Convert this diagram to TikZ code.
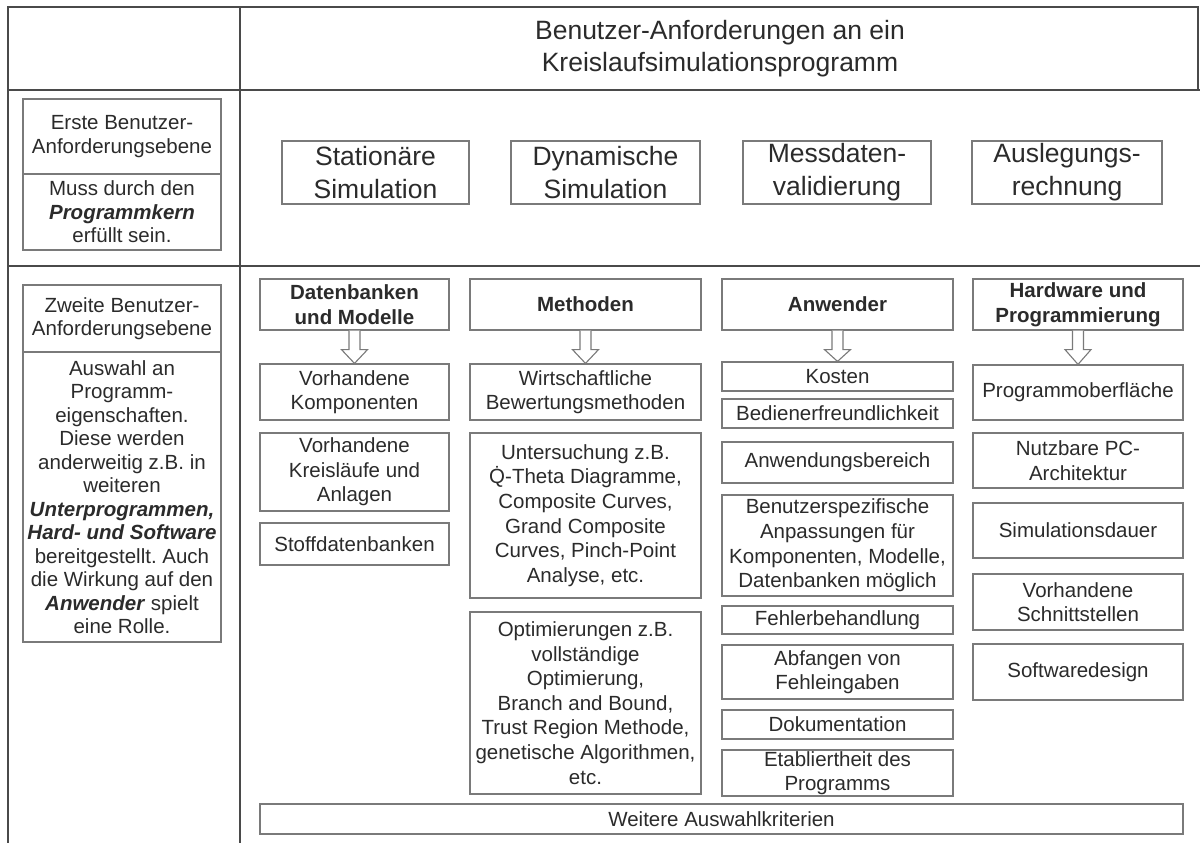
\documentclass[tikz,border=0pt]{standalone}
\usepackage{fontspec}
\setmainfont{Liberation Sans}
\usetikzlibrary{calc}
\definecolor{tline}{HTML}{4A4A4A}
\definecolor{bline}{HTML}{7A7A7A}
\definecolor{txt}{HTML}{2B2B2B}
\frenchspacing
\newcommand\fsN{\fontsize{20.5}{24.6}\selectfont}
\newcommand\fsL{\fontsize{20.5}{23.5}\selectfont}
\newcommand\fsT{\fontsize{26.5}{31.5}\selectfont}
\newcommand\fsB{\fontsize{26.5}{33}\selectfont}
\newcommand\bi[1]{\textbf{\textit{#1}}}
\newcommand\harrow[2]{\draw[harr] ($(#1.south)+(-5.5,0)$) |- ($(#1.south)+(-13,19)$) -- (#1.south |- #2.north) -- ($(#1.south)+(13,19)$) -| ($(#1.south)+(5.5,0)$);}
\begin{document}
\begin{tikzpicture}[x=1pt,y=-1pt,
  tbl/.style={draw=tline,line width=1.6pt},
  box/.style={draw=bline,line width=1.2pt,inner sep=0pt,align=center,text=txt,font=\fsN},
  bx/.style n args={2}{box,minimum width=#1,minimum height=#2},
  lbx/.style n args={2}{box,font=\fsL,minimum width=#1,minimum height=#2},
  tbx/.style n args={2}{box,font=\fsB,minimum width=#1,minimum height=#2},
  hbx/.style n args={2}{box,font=\fsN\bfseries,minimum width=#1,minimum height=#2},
  harr/.style={draw=bline,line width=1.1pt,fill=white,line join=miter}]
\fill[white] (0,0) rectangle (1200,843);
\useasboundingbox (0,0) rectangle (1200,843);

% table frame
\draw[tbl] (8,843) -- (8,7) -- (1198,7) -- (1198,90);
\draw[tbl] (8,90) -- (1200,90);
\draw[tbl] (8,266) -- (1200,266);
\draw[tbl] (240,7) -- (240,843);

% title
\node[font=\fsT,text=txt,align=center,inner sep=0pt] (title) at (720,48.5)
  {Benutzer-Anforderungen an ein\\Kreislaufsimulationsprogramm};

% left column
\node[lbx={198pt}{75pt}] (l1a) at (122,136.5) {Erste Benutzer-\\Anforderungsebene};
\node[lbx={198pt}{76pt}] (l1b) at (122,212) {Muss durch den\\\bi{Programmkern}\\erfüllt sein.};
\node[lbx={198pt}{67pt}] (l2a) at (122,318.5) {Zweite Benutzer-\\Anforderungsebene};
\node[lbx={198pt}{290pt}] (l2b) at (122,497) {Auswahl an\\Programm-\\eigenschaften.\\Diese werden\\anderweitig z.B. in\\weiteren\\\bi{Unterprogrammen,}\\\bi{Hard- und Software}\\bereitgestellt. Auch\\die Wirkung auf den\\\bi{Anwender} spielt\\eine Rolle.};

% first level boxes
\node[tbx={187pt}{63pt}] (t1) at (375.5,172.5) {Stationäre\\Simulation};
\node[tbx={189pt}{63pt}] (t2) at (605.5,172.5) {Dynamische\\Simulation};
\node[tbx={188pt}{63pt}] (t3) at (837,172.5) {Messdaten-\\validierung};
\node[tbx={190pt}{63pt}] (t4) at (1067,172.5) {Auslegungs-\\rechnung};

% column 1
\node[hbx={189pt}{51pt}] (dh) at (354.5,304.5) {Datenbanken\\und Modelle};
\node[bx={189pt}{56pt}] (d1) at (354.5,392) {Vorhandene\\Komponenten};
\node[bx={189pt}{78pt}] (d2) at (354.5,472) {Vorhandene\\Kreisläufe und\\Anlagen};
\node[bx={189pt}{42pt}] (d3) at (354.5,544) {Stoffdatenbanken};
\harrow{dh}{d1}

% column 2
\node[hbx={231pt}{51pt}] (mh) at (585.5,304.5) {Methoden};
\node[bx={231pt}{56pt}] (m1) at (585.5,392) {Wirtschaftliche\\Bewertungsmethoden};
\node[bx={231pt}{165pt}] (m2) at (585.5,515.5) {Untersuchung z.B.\\\.{Q}-Theta Diagramme,\\Composite Curves,\\Grand Composite\\Curves, Pinch-Point\\Analyse, etc.};
\node[bx={231pt}{182pt}] (m3) at (585.5,703) {Optimierungen z.B.\\vollständige\\Optimierung,\\Branch and Bound,\\Trust Region Methode,\\genetische Algorithmen,\\etc.};
\harrow{mh}{m1}

% column 3
\node[hbx={231pt}{51pt}] (ah) at (837.5,304.5) {Anwender};
\node[bx={231pt}{29pt}] (a1) at (837.5,376.5) {Kosten};
\node[bx={231pt}{29pt}] (a2) at (837.5,413.5) {Bedienerfreundlichkeit};
\node[bx={231pt}{41pt}] (a3) at (837.5,462.5) {Anwendungsbereich};
\node[bx={231pt}{101pt}] (a4) at (837.5,545.5) {Benutzerspezifische\\Anpassungen für\\Komponenten, Modelle,\\Datenbanken möglich};
\node[bx={231pt}{28pt}] (a5) at (837.5,620) {Fehlerbehandlung};
\node[bx={231pt}{54pt}] (a6) at (837.5,672) {Abfangen von\\Fehleingaben};
\node[bx={231pt}{29pt}] (a7) at (837.5,724.5) {Dokumentation};
\node[bx={231pt}{46pt}] (a8) at (837.5,773) {Etabliertheit des\\Programms};
\harrow{ah}{a1}

% column 4
\node[hbx={210pt}{51pt}] (hh) at (1078,304.5) {Hardware und\\Programmierung};
\node[bx={210pt}{55pt}] (h1) at (1078,392.5) {Programmoberfläche};
\node[bx={210pt}{55pt}] (h2) at (1078,460.5) {Nutzbare PC-\\Architektur};
\node[bx={210pt}{55pt}] (h3) at (1078,530.5) {Simulationsdauer};
\node[bx={210pt}{56pt}] (h4) at (1078,602) {Vorhandene\\Schnittstellen};
\node[bx={210pt}{56pt}] (h5) at (1078,672) {Softwaredesign};
\harrow{hh}{h1}

% bottom
\node[bx={923pt}{30pt}] (w) at (721.5,819) {Weitere Auswahlkriterien};
\end{tikzpicture}
\end{document}
